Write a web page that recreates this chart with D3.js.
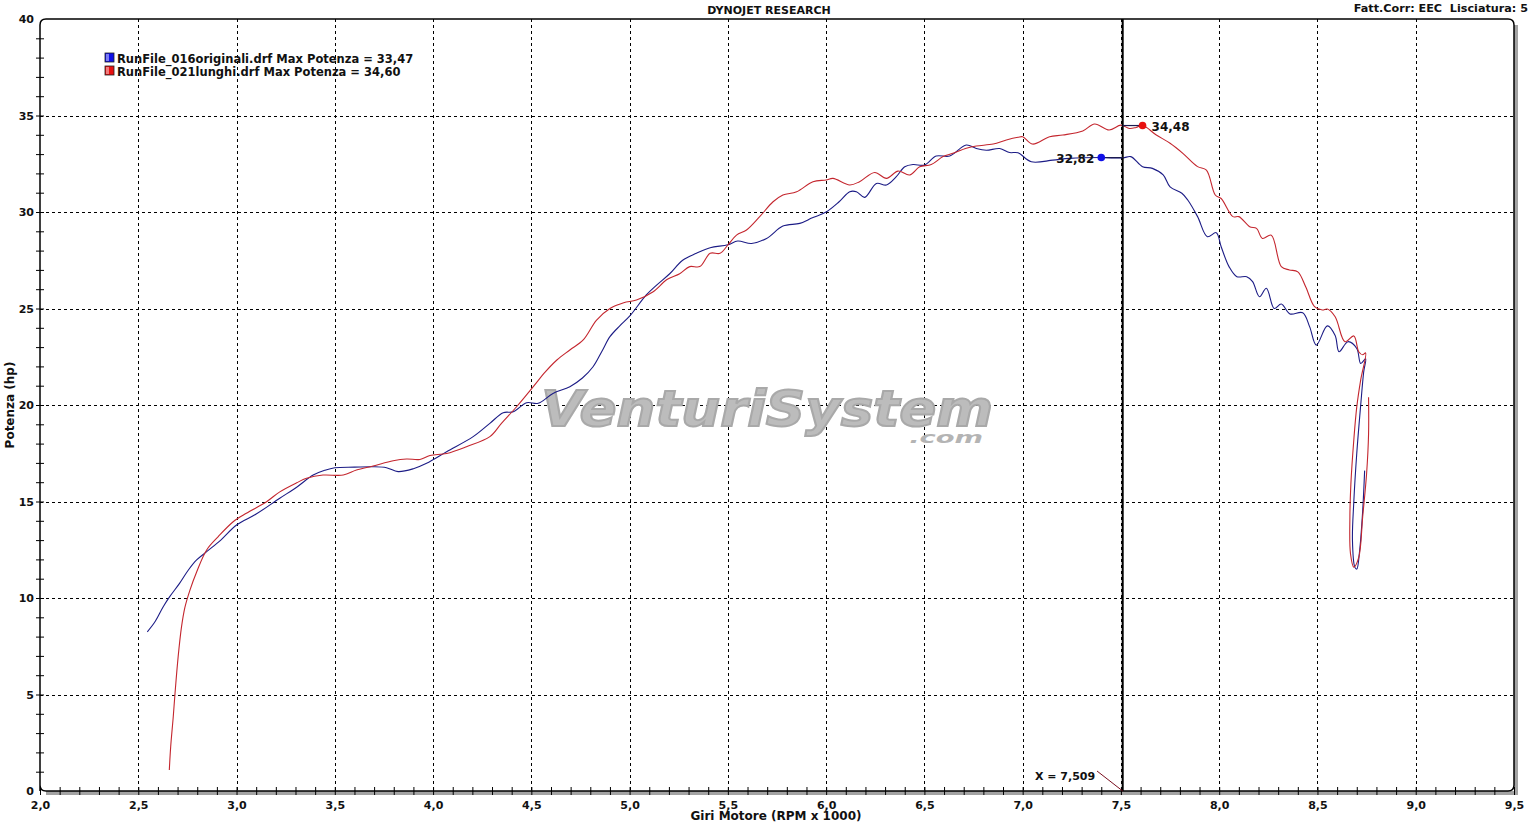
<!DOCTYPE html>
<html>
<head>
<meta charset="utf-8">
<script src="https://cdn.jsdelivr.net/npm/d3@7"></script>
<style>
  html, body { margin: 0; padding: 0; background: #fff; }
  svg { display: block; }
  text { font-family: "DejaVu Sans", Verdana, sans-serif; font-weight: bold; fill: #111; white-space: pre; }
</style>
</head>
<body>
<svg id="chart" width="1539" height="823"></svg>
<script>
// ---- data ----
const blueRpm = [2.546,2.585,2.627,2.66,2.71,2.755,2.797,2.848,2.92,3.0,3.10,3.22,3.306,3.39,3.45,3.50,3.60,3.695,3.763,3.822,3.9,3.967,4.069,4.204,4.289,4.357,4.408,4.476,4.535,4.61,4.696,4.76,4.814,4.86,4.90,4.95,5.0,5.085,5.136,5.204,5.27,5.34,5.41,5.50,5.55,5.62,5.697,5.78,5.866,5.93,6.0,6.066,6.12,6.154,6.196,6.256,6.307,6.357,6.40,6.442,6.50,6.56,6.629,6.713,6.764,6.815,6.883,6.934,6.976,7.044,7.154,7.24,7.40,7.51,7.55,7.61,7.66,7.715,7.75,7.81,7.84,7.89,7.94,7.985,8.01,8.05,8.09,8.14,8.17,8.205,8.24,8.28,8.316,8.36,8.425,8.46,8.494,8.55,8.59,8.61,8.655,8.70,8.72,8.745,8.735,8.72,8.70,8.685,8.678,8.69,8.70,8.715,8.73,8.74];
const bluePower = [8.25,8.77,9.55,10.07,10.76,11.45,11.97,12.4,13.0,13.78,14.35,15.17,15.74,16.37,16.62,16.75,16.78,16.80,16.75,16.55,16.7,16.98,17.58,18.36,19.05,19.6,19.65,20.12,20.09,20.6,20.95,21.4,21.98,22.8,23.54,24.1,24.6,25.7,26.2,26.8,27.5,27.86,28.15,28.3,28.5,28.37,28.63,29.27,29.41,29.7,30.0,30.53,31.05,31.05,30.76,31.48,31.4,31.83,32.34,32.46,32.43,32.9,32.9,33.47,33.29,33.2,33.29,33.08,33.07,32.6,32.69,32.78,32.82,32.8,32.87,32.35,32.26,31.92,31.3,30.97,30.62,29.76,28.72,28.93,28.2,27.17,26.65,26.65,26.39,25.61,26.05,25.0,25.23,24.72,24.78,24.06,23.1,24.1,23.6,22.76,23.28,22.93,22.15,22.4,21.7,20.0,17.5,15.0,13.0,11.6,11.5,12.5,14.5,16.6];

const redRpm = [2.658,2.665,2.678,2.687,2.703,2.72,2.737,2.763,2.797,2.848,2.907,2.983,3.05,3.153,3.22,3.306,3.356,3.44,3.543,3.61,3.695,3.797,3.865,3.933,3.984,4.069,4.17,4.289,4.348,4.425,4.51,4.57,4.63,4.696,4.764,4.832,4.90,4.97,5.035,5.12,5.19,5.255,5.306,5.357,5.41,5.46,5.50,5.544,5.595,5.662,5.73,5.78,5.85,5.933,6.0,6.035,6.12,6.17,6.247,6.307,6.366,6.425,6.476,6.535,6.595,6.645,6.713,6.764,6.85,6.917,6.976,7.0,7.05,7.137,7.204,7.306,7.366,7.44,7.50,7.543,7.577,7.61,7.68,7.75,7.815,7.89,7.935,7.98,8.01,8.07,8.1,8.155,8.19,8.22,8.265,8.316,8.357,8.40,8.44,8.485,8.525,8.55,8.59,8.64,8.685,8.71,8.73,8.745,8.72,8.70,8.685,8.67,8.665,8.668,8.685,8.71,8.73,8.75,8.76,8.76];
const redPower = [1.09,2.3,3.85,5.06,6.96,8.5,9.5,10.41,11.35,12.49,13.18,13.95,14.39,14.99,15.5,15.97,16.2,16.37,16.37,16.63,16.84,17.11,17.2,17.18,17.38,17.49,17.84,18.36,19.05,19.91,20.95,21.7,22.33,22.85,23.37,24.4,25.0,25.3,25.44,25.87,26.5,26.8,27.17,27.17,27.86,27.86,28.29,28.8,29.07,29.76,30.53,30.88,31.05,31.57,31.66,31.74,31.4,31.57,32.05,31.74,32.12,31.92,32.34,32.46,32.87,33.04,33.3,33.42,33.52,33.73,33.87,33.9,33.52,33.9,33.99,34.2,34.56,34.25,34.5,34.33,34.38,34.48,33.99,33.56,33.04,32.35,32.17,30.88,30.7,29.76,29.76,29.24,29.15,28.63,28.8,27.17,27.0,26.9,26.13,25.1,24.92,24.97,24.57,23.28,23.58,22.76,22.6,22.7,21.3,19.9,18.2,15.9,14.2,12.3,11.6,12.1,14.2,16.45,18.5,20.4];

const legendLabels = ["RunFile_016originali.drf Max Potenza = 33,47", "RunFile_021lunghi.drf Max Potenza = 34,60"];
const seriesColors = ["#1c1c86", "#c4262e"];
const markerColors = ["#1010e8", "#e81010"];
const markerRpm = [7.40, 7.61];
const markerPower = [32.82, 34.48];
const markerLabels = ["32,82", "34,48"];
const cursorRpm = 7.509;
const cursorLabel = "X = 7,509";
const xTicks = [2.0,2.5,3.0,3.5,4.0,4.5,5.0,5.5,6.0,6.5,7.0,7.5,8.0,8.5,9.0,9.5];
const yTicks = [0,5,10,15,20,25,30,35,40];
const title = "DYNOJET RESEARCH";
const corrText = "Fatt.Corr: EEC  Lisciatura: 5";
const xTitle = "Giri Motore (RPM x 1000)";
const yTitle = "Potenza (hp)";

// ---- layout ----
const L = 40, R = 1514, T = 19, B = 791;
const x = d3.scaleLinear().domain([2, 9.5]).range([L, R]);
const y = d3.scaleLinear().domain([0, 40]).range([B, T]);
const fmt = v => v.toFixed(1).replace(".", ",");

const svg = d3.select("#chart");

// shadow
svg.append("rect").attr("x", R).attr("y", T + 6).attr("width", 4).attr("height", B - T - 2).attr("fill", "#a3a3a3");
svg.append("rect").attr("x", L + 6).attr("y", B).attr("width", R - L - 2).attr("height", 4).attr("fill", "#a3a3a3");

// gridlines
const grid = svg.append("g").attr("stroke", "#000").attr("stroke-width", 1).attr("stroke-dasharray", "3,3");
grid.selectAll("line.v").data(xTicks.filter(v => v > 2 && v < 9.5)).join("line")
  .attr("x1", d => Math.round(x(d)) + 0.5).attr("x2", d => Math.round(x(d)) + 0.5)
  .attr("y1", T).attr("y2", B);
grid.selectAll("line.h").data(yTicks.filter(v => v > 0 && v < 40)).join("line")
  .attr("y1", d => Math.round(y(d)) + 0.5).attr("y2", d => Math.round(y(d)) + 0.5)
  .attr("x1", L).attr("x2", R);

// frame
const r = 6;
svg.append("path")
  .attr("d", `M${L},${B} L${L},${T + r} Q${L},${T} ${L + r},${T} L${R - r},${T} Q${R},${T} ${R},${T + r} L${R},${B - r} Q${R},${B} ${R - r},${B} L${L + r},${B} Q${L},${B} ${L},${B - r}`)
  .attr("fill", "none").attr("stroke", "#000").attr("stroke-width", 1.5);

// watermark (single text element with two tspans)
const x0 = x(4.55);
const wm = svg.append("text").style("font-style", "italic").style("font-weight", "900");
wm.append("tspan").attr("x", x0).attr("y", 426)
  .attr("textLength", 452).attr("lengthAdjust", "spacingAndGlyphs")
  .style("font-size", "50px")
  .style("fill", "#bcbcbc").style("stroke", "#a9a9a9").style("stroke-width", 2)
  .text("VenturiSystem");
wm.append("tspan").attr("x", x0 + 368).attr("y", 443)
  .attr("textLength", 74).attr("lengthAdjust", "spacingAndGlyphs")
  .style("font-size", "16px")
  .style("fill", "#b4b4b4")
  .text(".com");

// axes: minor ticks
const xMinor = d3.range(20, 96).map(v => v / 10);
svg.append("g").attr("transform", `translate(0,${B - 4})`)
  .call(d3.axisBottom(x).tickValues(xMinor).tickSize(8).tickFormat(""))
  .call(g => g.select(".domain").remove())
  .call(g => g.selectAll("line").attr("stroke", "#000").attr("stroke-width", 1));
const yMinor = d3.range(1, 40);
svg.append("g").attr("transform", `translate(${L + 4},0)`)
  .call(d3.axisLeft(y).tickValues(yMinor).tickSize(8).tickFormat(""))
  .call(g => g.select(".domain").remove())
  .call(g => g.selectAll("line").attr("stroke", "#000").attr("stroke-width", 1));

// axis labels
svg.append("g").attr("transform", `translate(0,${B})`)
  .call(d3.axisBottom(x).tickValues(xTicks).tickSize(0).tickPadding(10).tickFormat(fmt))
  .call(g => g.select(".domain").remove())
  .call(g => g.selectAll("text").style("font-size", "11px").style("font-family", "'DejaVu Sans', Verdana, sans-serif").style("font-weight", "bold").attr("fill", "#111"));
svg.append("g").attr("transform", `translate(${L},0)`)
  .call(d3.axisLeft(y).tickValues(yTicks).tickSize(0).tickPadding(6).tickFormat(d3.format("d")))
  .call(g => g.select(".domain").remove())
  .call(g => g.selectAll("text").style("font-size", "11px").style("font-family", "'DejaVu Sans', Verdana, sans-serif").style("font-weight", "bold").attr("fill", "#111"));

// titles
svg.append("text").attr("x", 769).attr("y", 14).attr("text-anchor", "middle").style("font-size", "11px").text(title);
svg.append("text").attr("x", 1528).attr("y", 12).attr("text-anchor", "end").style("font-size", "11.2px").text(corrText);
svg.append("text").attr("x", 776).attr("y", 820).attr("text-anchor", "middle").style("font-size", "12px").text(xTitle);
svg.append("text").attr("transform", "translate(14,405) rotate(-90)").attr("text-anchor", "middle").style("font-size", "12px").text(yTitle);

// series
const line = d3.line().x(d => x(d[0])).y(d => y(d[1])).curve(d3.curveCatmullRom.alpha(0.5));
const series = [d3.zip(blueRpm, bluePower), d3.zip(redRpm, redPower)];
svg.append("g").selectAll("path").data(series).join("path")
  .attr("d", line).attr("fill", "none")
  .attr("stroke", (d, i) => seriesColors[i]).attr("stroke-width", 1.1);

// cursor
svg.append("line").attr("x1", x(cursorRpm)).attr("x2", x(cursorRpm)).attr("y1", T).attr("y2", B)
  .attr("stroke", "#000").attr("stroke-width", 2);
svg.append("text").attr("x", 1035).attr("y", 780).style("font-size", "11px").text(cursorLabel);
svg.append("line").attr("x1", 1097).attr("y1", 771).attr("x2", x(cursorRpm)).attr("y2", B)
  .attr("stroke", "#7a1020").attr("stroke-width", 1);

// markers
markerRpm.forEach((m, i) => {
  svg.append("line").attr("x1", x(m)).attr("x2", x(cursorRpm)).attr("y1", y(markerPower[i])).attr("y2", y(markerPower[i]))
    .attr("stroke", "#1a1a50").attr("stroke-width", 1.2);
  svg.append("circle").attr("cx", x(m)).attr("cy", y(markerPower[i])).attr("r", 3.8).attr("fill", markerColors[i]);
});
svg.append("text").attr("x", x(markerRpm[0]) - 7).attr("y", y(markerPower[0]) + 5).attr("text-anchor", "end").style("font-size", "12px").text(markerLabels[0]);
svg.append("text").attr("x", x(markerRpm[1]) + 9).attr("y", y(markerPower[1]) + 5).style("font-size", "12px").text(markerLabels[1]);

// legend
const leg = svg.append("g");
legendLabels.forEach((t, i) => {
  const yy = 53 + i * 13;
  leg.append("rect").attr("x", 105).attr("y", yy).attr("width", 9).attr("height", 9)
    .attr("fill", markerColors[i]).attr("stroke", "#222").attr("stroke-width", 0.8);
  leg.append("rect").attr("x", 106).attr("y", yy + 1).attr("width", 3).attr("height", 7).attr("fill", "#fff").attr("opacity", 0.45);
  leg.append("text").attr("x", 117).attr("y", yy + 10).style("font-size", "11.5px").text(t);
});
</script>
</body>
</html>
